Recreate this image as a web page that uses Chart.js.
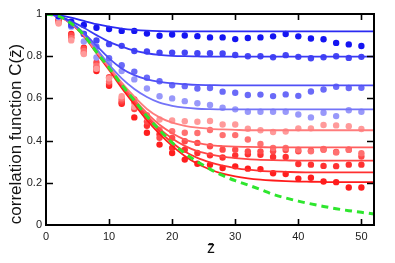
<!DOCTYPE html>
<html><head><meta charset="utf-8">
<script src="https://cdn.jsdelivr.net/npm/chart.js@4.4.0/dist/chart.umd.min.js"></script>
<style>html,body{margin:0;padding:0;background:#fff;}#wrap{width:395px;height:263px;}</style>
</head><body><div id="wrap"><canvas id="c" width="395" height="263"></canvas></div>
<script>
// ---- data ----
const xTicks = [0, 10, 20, 30, 40, 50];
const yTicks = [0, 0.2, 0.4, 0.6, 0.8, 1];
const zLine = [0,2,4,6,8,10,12,14,16,18,20,22,24,26,28,30,32,34,36,38,40,42,44,46,48,50,52];
const zDots = [2,4,6,8,10,12,14,16,18,20,22,24,26,28,30,32,34,36,38,40,42,44,46,48,50];

const L1 = [1,0.995,0.983,0.967,0.952,0.94,0.931,0.925,0.921,0.919,0.918,0.918,0.918,0.918,0.918,0.918,0.918,0.918,0.918,0.918,0.918,0.918,0.918,0.918,0.918,0.918,0.918];
const L2 = [1,0.99,0.965,0.935,0.9,0.868,0.845,0.826,0.814,0.806,0.802,0.8,0.799,0.798,0.798,0.798,0.798,0.798,0.798,0.798,0.798,0.798,0.798,0.798,0.798,0.798,0.798];
const L3 = [1,0.99,0.96,0.91,0.85,0.79,0.742,0.71,0.69,0.678,0.671,0.667,0.664,0.663,0.662,0.662,0.662,0.662,0.662,0.662,0.662,0.662,0.662,0.662,0.662,0.662,0.662];
const L4 = [1,0.99,0.957,0.905,0.835,0.76,0.695,0.645,0.607,0.58,0.565,0.556,0.551,0.549,0.548,0.548,0.548,0.548,0.548,0.548,0.548,0.548,0.548,0.548,0.548,0.548,0.548];
const L5 = [1,0.99,0.955,0.9,0.822,0.75,0.675,0.608,0.55,0.51,0.485,0.47,0.461,0.456,0.453,0.451,0.449,0.449,0.449,0.449,0.449,0.449,0.449,0.449,0.449,0.449,0.449];
const L6 = [1,0.99,0.955,0.9,0.82,0.745,0.667,0.595,0.53,0.475,0.435,0.405,0.389,0.379,0.374,0.371,0.37,0.369,0.368,0.368,0.368,0.368,0.368,0.368,0.368,0.368,0.368];
const L7 = [1,0.99,0.955,0.9,0.82,0.745,0.666,0.59,0.518,0.457,0.41,0.375,0.35,0.335,0.324,0.317,0.312,0.309,0.307,0.306,0.305,0.305,0.305,0.305,0.305,0.305,0.305];
const L8 = [1,0.99,0.955,0.9,0.82,0.744,0.664,0.585,0.51,0.445,0.39,0.348,0.318,0.297,0.281,0.27,0.262,0.257,0.254,0.252,0.25,0.249,0.249,0.249,0.249,0.249,0.249];
const L9 = [1,0.99,0.953,0.895,0.815,0.735,0.65,0.572,0.497,0.432,0.375,0.327,0.29,0.263,0.243,0.23,0.221,0.215,0.211,0.208,0.206,0.205,0.204,0.203,0.203,0.203,0.203];
const G  = [1,0.99,0.955,0.9,0.82,0.745,0.665,0.59,0.515,0.45,0.39,0.34,0.3,0.265,0.235,0.21,0.19,0.168,0.145,0.128,0.113,0.1,0.088,0.077,0.068,0.06,0.052];

const S1 = [0.99,0.963,0.948,0.935,0.929,0.92,0.92,0.907,0.897,0.903,0.898,0.895,0.889,0.889,0.881,0.886,0.889,0.894,0.905,0.894,0.884,0.88,0.863,0.856,0.848];
const S2 = [0.99,0.945,0.905,0.875,0.857,0.849,0.825,0.822,0.817,0.817,0.817,0.814,0.814,0.813,0.806,0.8,0.8,0.795,0.805,0.797,0.79,0.795,0.8,0.792,0.797];
const S3 = [0.99,0.955,0.905,0.845,0.79,0.757,0.727,0.698,0.681,0.662,0.658,0.647,0.649,0.632,0.627,0.616,0.618,0.611,0.619,0.612,0.633,0.642,0.655,0.649,0.65];
const S4 = [0.985,0.94,0.87,0.794,0.762,0.73,0.69,0.647,0.61,0.6,0.587,0.577,0.569,0.556,0.548,0.537,0.537,0.537,0.537,0.524,0.51,0.532,0.516,0.544,0.537];
const S5 = [0.955,0.875,0.81,0.74,0.695,0.61,0.56,0.51,0.5,0.495,0.492,0.489,0.493,0.476,0.476,0.456,0.449,0.441,0.443,0.458,0.458,0.474,0.472,0.468,0.455];
const S6 = [0.96,0.885,0.825,0.755,0.68,0.6,0.58,0.52,0.452,0.444,0.437,0.436,0.45,0.426,0.426,0.405,0.384,0.365,0.365,0.357,0.349,0.36,0.344,0.357,0.34];
const S7 = [0.965,0.9,0.835,0.77,0.7,0.59,0.55,0.49,0.413,0.413,0.397,0.389,0.373,0.357,0.357,0.349,0.349,0.349,0.355,0.349,0.352,0.357,0.346,0.357,0.325];
const S8 = [0.97,0.89,0.815,0.745,0.67,0.58,0.595,0.47,0.43,0.365,0.357,0.341,0.33,0.32,0.33,0.335,0.333,0.322,0.322,0.289,0.286,0.28,0.279,0.286,0.286];
const S9 = [0.975,0.905,0.84,0.73,0.66,0.575,0.51,0.437,0.381,0.341,0.31,0.29,0.285,0.27,0.278,0.267,0.265,0.245,0.242,0.22,0.224,0.206,0.203,0.178,0.178];

const lineSeries = [L1,L2,L3,L4,L5,L6,L7,L8,L9];
const dotSeries = [S1,S2,S3,S4,S5,S6,S7,S8,S9];
const lineColors = ['#2a2af2','#3a3af4','#5050f6','#7474f8','#ff7c7c','#ff5e5e','#ff4646','#ff3030','#ff1c1c'];
const dotColors  = ['#1414f2','#4646f5','#6a6af8','#9898fa','#ff9a9a','#ff7070','#ff4a4a','#ff3030','#ff1e1e'];

const datasets = [];
dotSeries.forEach((s, k) => {
  datasets.push({
    data: zDots.map((z, i) => ({x: z, y: s[i]})),
    showLine: false, pointRadius: 3.2, pointBorderWidth: 0,
    pointBackgroundColor: dotColors[k], backgroundColor: dotColors[k], order: 3
  });
});
lineSeries.forEach((s, k) => {
  datasets.push({
    data: zLine.map((z, i) => ({x: z, y: s[i]})),
    showLine: true, pointRadius: 0, borderColor: lineColors[k], borderWidth: 1.8,
    cubicInterpolationMode: 'monotone', fill: false, order: 2
  });
});
datasets.push({
  data: zLine.map((z, i) => ({x: z, y: G[i]})),
  showLine: true, pointRadius: 0, borderColor: '#2ee62e', borderWidth: 3,
  borderDash: [7, 5], cubicInterpolationMode: 'monotone', fill: false, order: 1
});

const FONT = '"Liberation Sans", Arial, sans-serif';

const framePlugin = {
  id: 'frame',
  afterDraw(chart) {
    const {ctx, chartArea: a, scales: {x, y}} = chart;
    ctx.save();
    ctx.strokeStyle = '#000';
    ctx.lineWidth = 1.6;
    ctx.beginPath();
    xTicks.forEach(v => {
      if (v === 0) return;
      const px = Math.round(x.getPixelForValue(v)) + 0.5;
      ctx.moveTo(px, a.bottom); ctx.lineTo(px, a.bottom - 6);
      ctx.moveTo(px, a.top); ctx.lineTo(px, a.top + 6);
    });
    yTicks.forEach(v => {
      if (v === 0 || v === 1) return;
      const py = Math.round(y.getPixelForValue(v)) + 0.5;
      ctx.moveTo(a.left, py); ctx.lineTo(a.left + 7, py);
      ctx.moveTo(a.right, py); ctx.lineTo(a.right - 7, py);
    });
    ctx.stroke();
    ctx.lineWidth = 2;
    ctx.strokeRect(a.left, a.top, a.right - a.left, a.bottom - a.top);
    // axis titles
    ctx.fillStyle = '#111';
    ctx.textAlign = 'center';
    ctx.textBaseline = 'middle';
    ctx.font = '16px ' + FONT;
    ctx.fillText('z\u0304', 211, 249);
    ctx.font = '17px ' + FONT;
    ctx.translate(16, 134);
    ctx.rotate(-Math.PI / 2);
    ctx.fillText('correlation function C(z\u0304)', 0, 0);
    ctx.restore();
  }
};

new Chart(document.getElementById('c'), {
  type: 'scatter',
  data: {datasets},
  plugins: [framePlugin],
  options: {
    responsive: false, animation: false, devicePixelRatio: 1,
    layout: {padding: {top: 14, right: 21, left: 0, bottom: 0}},
    plugins: {legend: {display: false}, tooltip: {enabled: false}},
    scales: {
      x: {
        type: 'linear', min: 0, max: 52,
        afterBuildTicks: s => { s.ticks = xTicks.map(v => ({value: v})); },
        afterFit: s => { s.height = 38; },
        grid: {display: false, drawTicks: false}, border: {display: false},
        ticks: {padding: 5, color: '#222', font: {family: FONT, size: 11}, maxRotation: 0, callback: v => String(v)}
      },
      y: {
        type: 'linear', min: 0, max: 1,
        afterBuildTicks: s => { s.ticks = yTicks.map(v => ({value: v})); },
        afterFit: s => { s.width = 46; },
        grid: {display: false, drawTicks: false}, border: {display: false},
        ticks: {padding: 4, color: '#222', font: {family: FONT, size: 11}, callback: v => String(v)}
      }
    }
  }
});
</script></body></html>
